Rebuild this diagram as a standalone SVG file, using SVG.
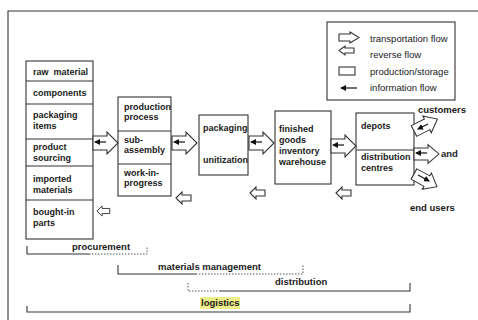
<svg xmlns="http://www.w3.org/2000/svg" width="478" height="320" viewBox="0 0 478 320">
<style>
.bx{fill:#fff;stroke:#333;stroke-width:1.1}
.t{font-family:"Liberation Sans",Arial,sans-serif;font-weight:bold;font-size:9px;fill:#1a1a1a}
.lg{font-family:"Liberation Sans",Arial,sans-serif;font-size:9.5px;fill:#1a1a1a}
.bl{font-family:"Liberation Sans",Arial,sans-serif;font-weight:bold;font-size:9.5px;fill:#1a1a1a}
.ar{fill:#fff;stroke:#333;stroke-width:1.1;stroke-linejoin:miter}
.ln{fill:none;stroke:#333;stroke-width:1.1}
.dt{fill:none;stroke:#555;stroke-width:1;stroke-dasharray:1.5 1.5}
.inf{fill:none;stroke:#111;stroke-width:1.2}
</style>
<defs>
<path id="tr" d="M0,-7 H14 V-11 L25,0 L14,11 V7 H0 Z"/>
<path id="rv" d="M0,0 L6,-6 V-3 H15 V3 H6 V6 Z"/>
<marker id="ah" markerWidth="6" markerHeight="6" refX="5" refY="3" orient="auto" markerUnits="userSpaceOnUse"><path d="M0,0 L6,3 L0,6 Z" fill="#111"/></marker>
</defs>
<rect width="478" height="320" fill="#fff"/>
<path class="ln" d="M8,320 V11 H478"/>

<g id="legend">
<rect class="bx" x="327" y="22" width="128" height="78"/>
<path class="ar" d="M339,34 H350 V32 L359,37.5 L350,43 V41 H339 Z"/>
<path class="ar" d="M339,50.5 L345,46 V48 H354 V53 H345 V55 Z"/>
<rect class="bx" x="339" y="67" width="16" height="8"/>
<line class="inf" x1="357" y1="88" x2="341" y2="88" marker-end="url(#ah)"/>
<text class="lg" x="370" y="42">transportation flow</text>
<text class="lg" x="370" y="58">reverse flow</text>
<text class="lg" x="370" y="75">production/storage</text>
<text class="lg" x="370" y="91">information flow</text>
</g>

<g id="sourcing">
<rect class="bx" x="26" y="61" width="67" height="178"/>
<path class="ln" d="M26,81 H93 M26,104 H93 M26,139 H93 M26,166 H93 M26,200 H93"/>
<text class="t" x="33" y="75" xml:space="preserve">raw  material</text>
<text class="t" x="33" y="96">components</text>
<text class="t" x="33" y="118">packaging</text>
<text class="t" x="33" y="129">items</text>
<text class="t" x="33" y="150">product</text>
<text class="t" x="33" y="161">sourcing</text>
<text class="t" x="33" y="182">imported</text>
<text class="t" x="33" y="193">materials</text>
<text class="t" x="33" y="215">bought-in</text>
<text class="t" x="33" y="226">parts</text>
</g>

<g id="production">
<rect class="bx" x="118" y="97" width="53" height="99"/>
<path class="ln" d="M118,131 H171 M118,164 H171"/>
<text class="t" x="124" y="110">production</text>
<text class="t" x="124" y="120">process</text>
<text class="t" x="124" y="143">sub-</text>
<text class="t" x="124" y="153">assembly</text>
<text class="t" x="124" y="176">work-in-</text>
<text class="t" x="124" y="186">progress</text>
</g>

<g id="packaging">
<rect class="bx" x="199" y="115" width="49" height="60"/>
<text class="t" x="203" y="131">packaging</text>
<text class="t" x="203" y="163">unitization</text>
</g>

<g id="warehouse">
<rect class="bx" x="275" y="111" width="56" height="73"/>
<text class="t" x="279" y="132">finished</text>
<text class="t" x="279" y="143">goods</text>
<text class="t" x="279" y="154">inventory</text>
<text class="t" x="279" y="165">warehouse</text>
</g>

<g id="depots">
<rect class="bx" x="356" y="113" width="58" height="72"/>
<path class="ln" d="M356,150 H414"/>
<text class="t" x="361" y="129">depots</text>
<text class="t" x="361" y="160">distribution</text>
<text class="t" x="361" y="171">centres</text>
</g>

<g id="endpoints">
<text class="bl" x="418" y="113">customers</text>
<text class="bl" x="441" y="157">and</text>
<text class="bl" x="410" y="211">end users</text>
</g>

<g id="connectors">
<use href="#tr" class="ar" transform="translate(93,143)"/>
<line class="inf" x1="106" y1="142" x2="95" y2="142" marker-end="url(#ah)"/>
<use href="#tr" class="ar" transform="translate(172,143)"/>
<line class="inf" x1="185" y1="142" x2="174" y2="142" marker-end="url(#ah)"/>
<use href="#tr" class="ar" transform="translate(249,143)"/>
<line class="inf" x1="262" y1="142" x2="251" y2="142" marker-end="url(#ah)"/>
<use href="#tr" class="ar" transform="translate(331,146)"/>
<line class="inf" x1="344" y1="145" x2="333" y2="145" marker-end="url(#ah)"/>
<use href="#tr" class="ar" transform="translate(414,131) rotate(-27) scale(1.05,0.85)"/>
<line class="inf" x1="428" y1="124" x2="418" y2="129" marker-end="url(#ah)"/>
<use href="#tr" class="ar" transform="translate(414,154) scale(1,0.85)"/>
<line class="inf" x1="427" y1="153" x2="416" y2="153" marker-end="url(#ah)"/>
<use href="#tr" class="ar" transform="translate(414,174) rotate(29) scale(1.05,0.85)"/>
<line class="inf" x1="418" y1="175" x2="429" y2="181" marker-end="url(#ah)"/>
<use href="#rv" class="ar" transform="translate(97,211) scale(0.85)"/>
<use href="#rv" class="ar" transform="translate(176,198)"/>
<use href="#rv" class="ar" transform="translate(250,193)"/>
<use href="#rv" class="ar" transform="translate(336,193)"/>
</g>

<g id="scopes">
<path class="ln" d="M27,246 V254 H89"/>
<path class="dt" d="M89,254 H147 V246"/>
<text class="bl" x="72" y="250">procurement</text>
<path class="ln" d="M118,265 V274 H196"/>
<path class="dt" d="M196,274 H303 V265"/>
<text class="bl" x="158" y="270">materials management</text>
<path class="dt" d="M188,283 V291 H220"/>
<path class="ln" d="M220,291 H410 V283"/>
<text class="bl" x="275" y="285">distribution</text>
<path class="ln" d="M27,306 V312 H410 V304"/>
<rect x="200" y="297" width="40" height="12" fill="#eeee88"/>
<text class="bl" x="201" y="306">logistics</text>
</g>
</svg>
